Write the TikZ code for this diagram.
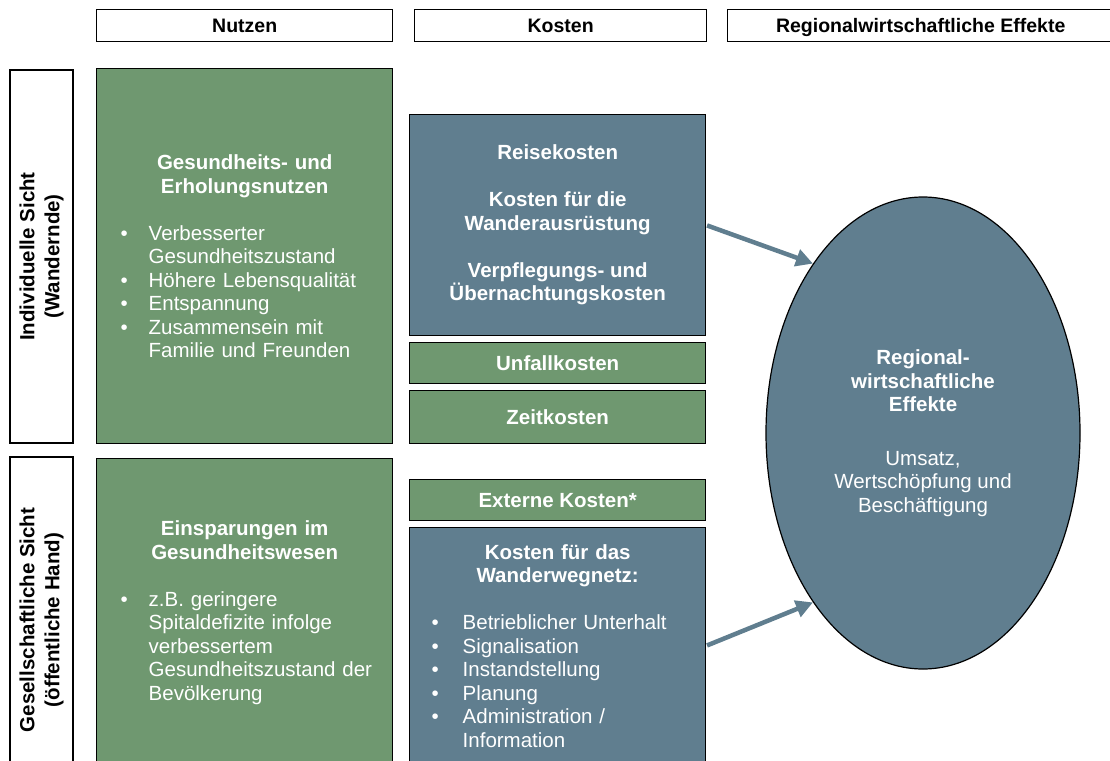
\documentclass[tikz,border=0pt]{standalone}
\usepackage{fontspec}
\setmainfont{Liberation Sans}
\usetikzlibrary{shapes.geometric,arrows.meta}
\definecolor{ggreen}{RGB}{111,152,112}
\definecolor{gblue}{RGB}{96,126,143}
\newcommand\bodyfont{\fontsize{20.5}{23.5}\selectfont}
\newcommand\bpt[2][28pt]{\par\hangindent=#1\hangafter=1\noindent\makebox[#1][l]{\textbullet}#2\par}
\begin{document}
\begin{tikzpicture}[x=1pt,y=-1pt,
 base/.style={draw=black, line width=1.4pt, inner sep=0pt, font=\bodyfont},
 hdr/.style={base, fill=white, minimum height=32pt, text height=16pt, text depth=2pt, font=\fontsize{19.5}{23.5}\selectfont\bfseries, anchor=north west},
 lab/.style={base, fill=white, rotate=90, minimum height=63pt, align=center, font=\fontsize{20.5}{25}\selectfont\bfseries},
 gbox/.style={base, fill=ggreen, text=white, anchor=north west, minimum width=296pt},
 bbox/.style={base, fill=gblue, text=white, anchor=north west, minimum width=296pt},
 titled/.style={text width=296pt, align=left},
 onebold/.style={align=center, font=\bodyfont\bfseries},
 arr/.style={draw=gblue, line width=4.5pt, shorten <=0.7pt, -{Triangle[length=17pt,width=17pt]}}
]
\useasboundingbox (0,0) rectangle (1110,760);
\clip (0,0) rectangle (1110,760);

% headers
\node[hdr, minimum width=296pt] (h1) at (96,9) {Nutzen};
\node[hdr, minimum width=292pt] (h2) at (414,9) {Kosten};
\node[hdr, minimum width=386pt] (h3) at (727,9) {Regionalwirtschaftliche Effekte};

% row labels
\node[lab, minimum width=373pt] (l1) at (41.5,256.5) {Individuelle Sicht\\(Wandernde)};
\node[lab, minimum width=326pt] (l2) at (41.5,620) {Gesellschaftliche Sicht\\(öffentliche Hand)};

% Nutzen
\node[gbox, titled, minimum height=375pt] (g1) at (96,68) {%
{\centering\bfseries Gesundheits- und\\Erholungsnutzen\par}
\vspace{23.5pt}
\leftskip=24pt
\bpt{Verbesserter\newline Gesundheitszustand}
\bpt{Höhere Lebensqualität}
\bpt{Entspannung}
\bpt{Zusammensein mit\newline Familie und Freunden}};

\node[gbox, titled, minimum height=308pt] (g2) at (96,458) {%
{\centering\bfseries Einsparungen im\\Gesundheitswesen\par}
\vspace{23.5pt}
\leftskip=24pt
\bpt{z.B. geringere\newline Spitaldefizite infolge\newline verbessertem\newline Gesundheitszustand der\newline Bevölkerung}};

% Kosten
\node[bbox, onebold, minimum height=221pt] (b1) at (409,114)
 {Reisekosten\\[23.5pt]Kosten für die\\Wanderausrüstung\\[23.5pt]Verpflegungs- und\\Übernachtungskosten};
\node[gbox, onebold, minimum height=41pt] (gu) at (409,342) {Unfallkosten};
\node[gbox, onebold, minimum height=53pt] (gz) at (409,390) {Zeitkosten};
\node[gbox, onebold, minimum height=41pt] (ge) at (409,479) {Externe Kosten*};
\node[bbox, titled, minimum height=236pt] (b2) at (409,527) {%
{\centering\bfseries Kosten für das\\Wanderwegnetz:\par}
\vspace{23.5pt}
\leftskip=22pt
\bpt[31pt]{Betrieblicher Unterhalt}
\bpt[31pt]{Signalisation}
\bpt[31pt]{Instandstellung}
\bpt[31pt]{Planung}
\bpt[31pt]{Administration /\newline Information}};

% Effects
\node[ellipse, draw=black, line width=1.2pt, fill=gblue, text=white,
 minimum width=314pt, minimum height=472pt, inner sep=0pt, align=center, font=\bodyfont]
 (eff) at (923,433)
 {\textbf{Regional-}\\\textbf{wirtschaftliche}\\\textbf{Effekte}\\[30pt]Umsatz,\\Wertschöpfung und\\Beschäftigung};

% arrows
\draw[arr] (b1.east) -- (eff.123.5);
\draw[arr] (b2.east) -- (eff.237.6);
\end{tikzpicture}
\end{document}
